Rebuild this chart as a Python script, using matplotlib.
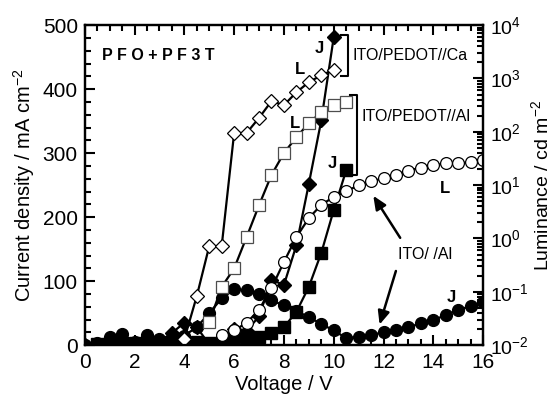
import matplotlib
matplotlib.use('Agg')
from matplotlib import pyplot as plt
import matplotlib.ticker as ticker
import numpy as np

plt.rcParams['font.family'] = ['Liberation Sans', 'DejaVu Sans']
plt.rcParams['mathtext.fontset'] = 'custom'
plt.rcParams['mathtext.rm'] = 'Liberation Sans'
plt.rcParams['mathtext.default'] = 'regular'

# ITO/PEDOT//Ca : current density (filled diamonds) and luminance (open diamonds)
ca_j_v = [0, 0.5, 1, 1.5, 2, 2.5, 3, 3.5, 4, 4.5, 5, 5.5, 6, 6.5, 7, 7.5, 8, 8.5, 9, 9.5, 10]
ca_j = [0, 2, 3, 3, 4, 4, 6, 19, 35, 28, 1, 1, 25, 22, 45, 102, 94, 156, 252, 351, 481]
ca_l_v = [4, 4.5, 5, 5.5, 6, 6.5, 7, 7.5, 8, 8.5, 9, 9.5, 10]
ca_l = [0.013, 0.083, 0.72, 0.72, 95, 95, 182, 376, 316, 550, 850, 1150, 1445]

# ITO/PEDOT//Al : filled squares (J), open squares (L)
al_j_v = [0.5, 1, 1.5, 2, 2.5, 3, 3.5, 4, 4.5, 5, 5.5, 6, 6.5, 7, 7.5, 8, 8.5, 9, 9.5, 10, 10.5]
al_j = [2, 3, 3, 3, 3, 3, 3, 4, 5, 4, 5, 12, 11, 12, 19, 28, 52, 91, 144, 211, 273]
al_l_v = [5, 5.5, 6, 6.5, 7, 7.5, 8, 8.5, 9, 9.5, 10, 10.5]
al_l = [0.027, 0.123, 0.275, 1.06, 4.2, 15.5, 40, 79, 145, 234, 316, 363]

# ITO/ /Al : filled circles (J), open circles (L)
ito_j_v = [0, 0.5, 1, 1.5, 2, 2.5, 3, 3.5, 4, 4.5, 5, 5.5, 6, 6.5, 7, 7.5, 8, 8.5,
           9, 9.5, 10, 10.5, 11, 11.5, 12, 12.5, 13, 13.5, 14, 14.5, 15, 15.5, 16]
ito_j = [0, 4, 13, 17, 5, 16, 9, 10, 15, 28, 50, 73, 87, 86, 80, 70, 62, 53,
         44, 33, 23, 11, 13, 16, 20, 23, 28, 34, 39, 47, 55, 61, 67]
ito_l_v = [5.5, 6, 6.5, 7, 7.5, 8, 8.5, 9, 9.5, 10, 10.5, 11, 11.5, 12, 12.5,
           13, 13.5, 14, 14.5, 15, 15.5, 16]
ito_l = [0.0155, 0.019, 0.026, 0.046, 0.117, 0.363, 1.06, 2.4, 4.27, 6.0, 7.6,
         10, 11.7, 13.5, 15.8, 18.6, 21.4, 23.4, 25.7, 25.7, 26.9, 29.5]

fig = plt.figure(figsize=(5.54, 3.99), dpi=100)
ax = fig.add_axes([0.153, 0.135, 0.719, 0.802])
ax2 = ax.twinx()
ax2.xaxis.set_visible(False)

lw = 1.6
ms = 8.5
# left axis: current density
ax.plot(ca_j_v, ca_j, 'kD-', lw=lw, ms=ms - 1, mfc='black')
ax.plot(al_j_v, al_j, 'ks-', lw=lw, ms=ms, mfc='black')
ax.plot(ito_j_v, ito_j, 'ko-', lw=lw, ms=ms, mfc='black')
# right axis: luminance
ax2.plot(ca_l_v, ca_l, 'kD-', lw=lw, ms=ms - 1, mfc='white', mew=0.9)
ax2.plot(al_l_v, al_l, 'ks-', lw=lw, ms=ms, mfc='white', mew=0.9, mec='0.3')
ax2.plot(ito_l_v, ito_l, 'ko-', lw=lw, ms=ms, mfc='white', mew=0.9)

ax.set_xlim(0, 16)
ax.set_ylim(0, 500)
ax2.set_yscale('log')
ax2.set_ylim(1e-2, 1e4)

ax.xaxis.set_major_locator(ticker.MultipleLocator(2))
ax.xaxis.set_minor_locator(ticker.MultipleLocator(0.5))
ax.yaxis.set_major_locator(ticker.MultipleLocator(100))
ax.yaxis.set_minor_locator(ticker.MultipleLocator(20))
ax2.yaxis.set_major_locator(ticker.LogLocator(base=10, numticks=10))
ax2.yaxis.set_minor_locator(ticker.LogLocator(base=10, subs=np.arange(2, 10), numticks=10))
ax2.yaxis.set_minor_formatter(ticker.NullFormatter())

ax.tick_params(which='both', direction='in', top=True, labelsize=15, width=1.5)
ax.tick_params(which='major', length=7)
ax.tick_params(which='minor', length=4)
ax.tick_params(axis='x', pad=6)
ax.tick_params(axis='y', which='both', right=False, pad=5)
ax2.tick_params(which='both', direction='in', labelsize=14, width=1.5, pad=5)
ax2.tick_params(which='major', length=7)
ax2.tick_params(which='minor', length=4)
for sp in ax.spines.values():
    sp.set_linewidth(1.6)
for sp in ax2.spines.values():
    sp.set_linewidth(1.6)

ax.set_xlabel('Voltage / V', fontsize=14.5, labelpad=2)
ax.set_ylabel('Current density / mA cm$^{-2}$', fontsize=14.5, labelpad=4)
ax2.set_ylabel('Luminance / cd m$^{-2}$', fontsize=14, labelpad=1)

# annotations
ax.text(0.68, 453, 'P F O + P F 3 T', fontsize=11.5, weight='bold', va='center')
ax.text(9.44, 464, 'J', fontsize=12, weight='bold', ha='center', va='center')
ax.text(8.63, 430, 'L', fontsize=12, weight='bold', ha='center', va='center')
ax.text(10.76, 453, 'ITO/PEDOT//Ca', fontsize=11.5, va='center')
ax.plot([10.28, 10.56, 10.56, 10.28], [484, 484, 420, 420], 'k-', lw=1.5)

ax.text(11.12, 358, 'ITO/PEDOT//Al', fontsize=11.5, va='center')
ax.plot([10.64, 10.92, 10.92, 10.64], [391, 391, 266, 266], 'k-', lw=1.5)
ax.text(8.43, 347, 'L', fontsize=12, weight='bold', ha='center', va='center')
ax.text(9.96, 284, 'J', fontsize=12, weight='bold', ha='center', va='center')

ax.text(14.46, 245, 'L', fontsize=12, weight='bold', ha='center', va='center')
ax.text(14.74, 75, 'J', fontsize=12, weight='bold', ha='center', va='center')
ax.text(13.65, 141, 'ITO/ /Al', fontsize=11.5, ha='center', va='center')
arrow = dict(arrowstyle='-|>,head_length=0.8,head_width=0.35', color='black', lw=1.8)
ax.annotate('', xy=(11.53, 237), xytext=(12.73, 164), arrowprops=arrow)
ax.annotate('', xy=(11.81, 28), xytext=(12.53, 120), arrowprops=arrow)

plt.savefig('out.png', dpi=100)
